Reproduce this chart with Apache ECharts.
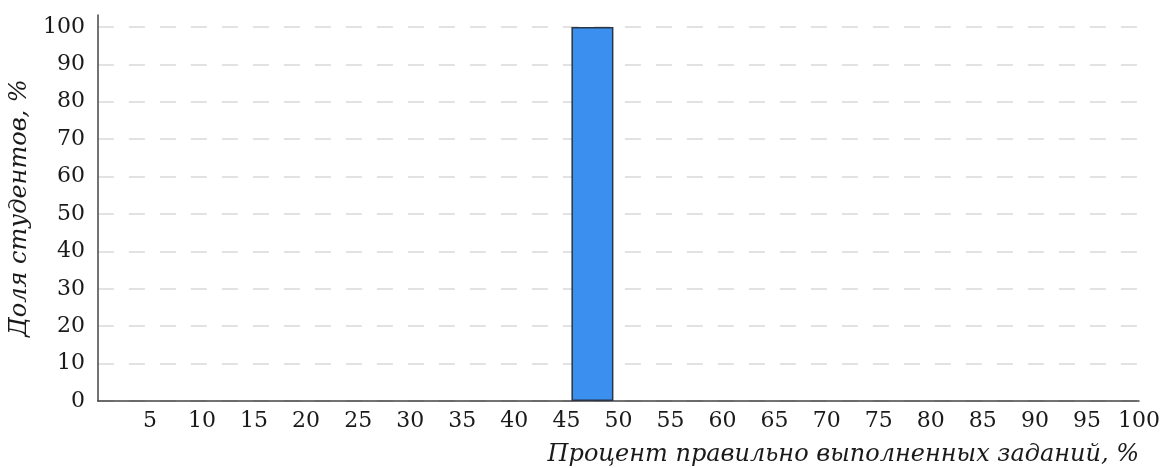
<!DOCTYPE html>
<html><head><meta charset="utf-8">
<script src="https://cdn.jsdelivr.net/npm/echarts@6/dist/echarts.min.js"></script>
<style>html,body{margin:0;padding:0;background:#fff}#c{width:1163px;height:468px}</style>
</head><body><div id="c"></div>
<script>
const binCenters = [2.5,7.5,12.5,17.5,22.5,27.5,32.5,37.5,42.5,47.5,52.5,57.5,62.5,67.5,72.5,77.5,82.5,87.5,92.5,97.5];
const shares = [0,0,0,0,0,0,0,0,0,100,0,0,0,0,0,0,0,0,0,0];
const xTitle = 'Процент правильно выполненных заданий, %';
const yTitle = 'Доля студентов, %';
const font = 'DejaVu Serif';
const chart = echarts.init(document.getElementById('c'));
chart.setOption({
  animation:false,
  grid:{left:97,right:23,top:15,bottom:67},
  xAxis:{type:'value',min:0,max:100,interval:5,
    axisLine:{show:true,lineStyle:{color:'#444',width:1.5}},
    axisTick:{show:false},splitLine:{show:false},
    axisLabel:{fontFamily:font,fontSize:22,color:'#1a1a1a',margin:9,
      formatter:v=>v===0?'':String(v)},
    name:xTitle,nameLocation:'end',nameGap:0,
    nameTextStyle:{fontFamily:font,fontStyle:'italic',fontSize:24,color:'#1a1a1a',
      align:'right',verticalAlign:'top',padding:[42,0,0,0]}
  },
  yAxis:{type:'value',min:0,max:103.2,interval:10,
    axisLine:{show:true,lineStyle:{color:'#444',width:1.5}},
    axisTick:{show:false},
    splitLine:{show:true,showMaxLine:false,lineStyle:{color:'#d9d9d9',type:[16,15],width:1.5}},
    axisLabel:{fontFamily:font,fontSize:22,color:'#1a1a1a',margin:13,showMaxLabel:false,
      formatter:v=>(v%10===0&&v<=100)?String(v):''},
    name:yTitle,nameLocation:'middle',nameGap:63,nameRotate:90,
    nameTextStyle:{fontFamily:font,fontStyle:'italic',fontSize:24,color:'#1a1a1a'}
  },
  series:[{type:'bar',
    data:binCenters.map((c,i)=>shares[i]>0?[c,shares[i]]:[c,'-']),barWidth:42,
    itemStyle:{color:'#3a8fef',borderColor:'#2a3645',borderWidth:1.5}}]
});
</script></body></html>
